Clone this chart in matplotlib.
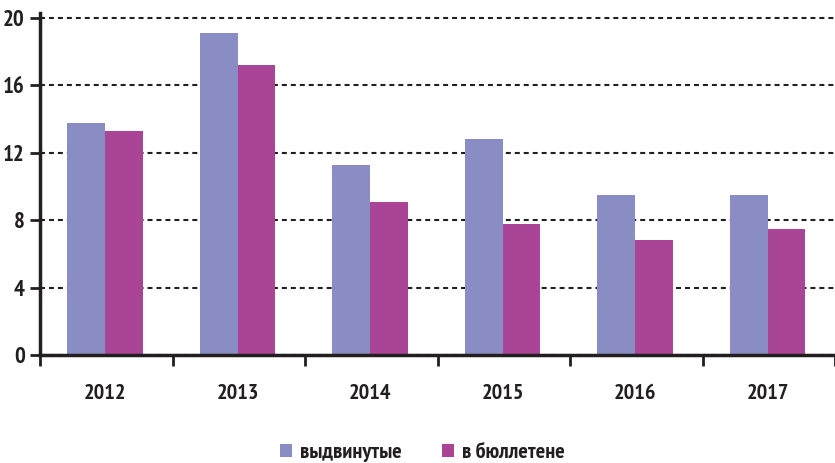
import numpy as np
import matplotlib.pyplot as plt

# Годы и значения по двум рядам
years = ["2012", "2013", "2014", "2015", "2016", "2017"]
vydvinutye = [13.8, 19.1, 11.3, 12.8, 9.5, 9.5]
v_bulletene = [13.3, 17.2, 9.1, 7.8, 6.8, 7.5]
labels = ["выдвинутые", "в бюллетене"]

col_blue = "#8a8cc4"
col_mag = "#a94496"
ink = "#231f20"

plt.rcParams['font.family'] = ['PT Sans Narrow', 'DejaVu Sans']
plt.rcParams['font.weight'] = 'bold'

fig = plt.figure(figsize=(8.35, 4.63), dpi=100)
# 1 ед. по y = 16.85 px, 1 категория = 134 px
ax = fig.add_axes([40 / 835, 108 / 463, 795 / 835, (355 - 13) / 463])

x = np.arange(len(years))
w = 0.285
shift = -0.008
ax.bar(x + shift - w / 2, vydvinutye, width=w, color=col_blue, zorder=3, label=labels[0])
ax.bar(x + shift + w / 2, v_bulletene, width=w, color=col_mag, zorder=3, label=labels[1])

ax.set_xlim(-0.5, -0.5 + 795 / 134)
ax.set_ylim(0, 20.3)

ax.set_yticks([0, 4, 8, 12, 16, 20])
ax.set_yticklabels(["0", "4", "8", "12", "16", "20"])
ax.set_xticks(np.arange(len(years) + 1) - 0.5)
ax.set_xticklabels([])
ax.set_xticks(x + shift, minor=True)
ax.set_xticklabels(years, minor=True)

ax.tick_params(axis='y', direction='out', length=7, width=2, color=ink,
               labelsize=16.5, labelcolor=ink, pad=4)
ax.tick_params(axis='x', which='major', direction='out', length=8, width=2, color=ink)
ax.tick_params(axis='x', which='minor', length=0, labelsize=16, labelcolor=ink, pad=21)

for s in ["top", "right"]:
    ax.spines[s].set_visible(False)
for s in ["left", "bottom"]:
    ax.spines[s].set_linewidth(2.5)
    ax.spines[s].set_color(ink)
    ax.spines[s].set_zorder(4)

ax.yaxis.grid(True, linestyle=(0, (2.4, 1.9)), color=ink, linewidth=1.5, zorder=1)
for gl in ax.get_ygridlines():
    gl.set_clip_on(False)

fig.legend(loc='center', bbox_to_anchor=(0.506, 1 - 453 / 463), ncol=2, frameon=False,
           fontsize=16, handlelength=0.55, handleheight=0.55, columnspacing=1.8,
           handletextpad=0.35, labelcolor=ink)

fig.savefig("out.png", dpi=100)
